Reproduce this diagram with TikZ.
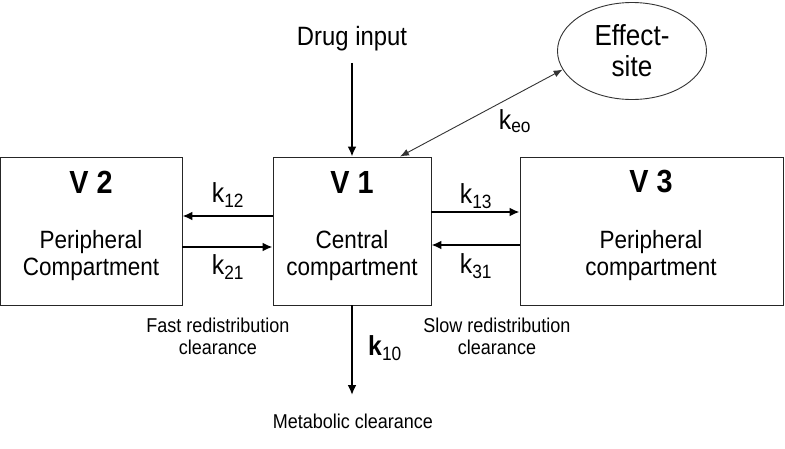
\documentclass[tikz,border=0pt]{standalone}
\usepackage{fontspec}
\setmainfont[FakeStretch=0.9]{Liberation Sans}
\usetikzlibrary{arrows.meta,shapes,positioning}
\tikzset{
  comp/.style   = {draw=black!85, line width=0.9pt, rectangle,
                   minimum height=148pt, inner sep=0pt},
  title/.style  = {font=\fontsize{32}{35}\selectfont\bfseries},
  body/.style   = {align=center, font=\fontsize{25}{27}\selectfont},
  rate/.style   = {font=\fontsize{27.5}{30}\selectfont},
  note/.style   = {align=center, font=\fontsize{20}{22}\selectfont},
  flow/.style   = {->, line width=2.3pt},
  link/.style   = {{Latex[length=9pt,width=7pt]}-{Latex[length=9pt,width=7pt]},
                   line width=0.9pt, draw=black!80}
}

\begin{document}
\begin{tikzpicture}[x=1pt, y=-1pt,
  >={Latex[length=10pt,width=9pt]}]
\useasboundingbox (0,0) rectangle (785,448);

% compartments
\node[comp, minimum width=182pt] (v2) at (91,231) {};
\node[comp, minimum width=158pt] (v1) at (352,231) {};
\node[comp, minimum width=263pt] (v3) at (651.5,231) {};

\node[title] (v2t) at (91,182) {V 2};
\node[title] (v1t) at (352,182) {V 1};
\node[title] (v3t) at (651,182) {V 3};

\node[body] (v2b) at (91,256) {Peripheral\\Compartment};
\node[body] (v1b) at (352,256) {Central\\compartment};
\node[body] (v3b) at (651,256) {Peripheral\\compartment};

% effect site and input
\node[draw=black!80, line width=0.9pt, ellipse, minimum width=149pt,
      minimum height=97pt, body, font=\fontsize{29}{31}\selectfont,
      inner sep=0pt] (effect) at (632,51) {Effect-\\site};
\node[body, font=\fontsize{26.5}{29}\selectfont] (drug) at (352,39) {Drug input};
\node[note] (metab) at (353,421) {Metabolic clearance};
\coordinate (out) at (352,395);

\draw[flow] ([yshift=-8pt]drug.south) -- (v1.north);
\draw[link] ([xshift=48pt]v1.north) -- (effect.195);
\node[rate] (keo) at (515,121) {k\textsubscript{eo}};

% transfer between compartments
\draw[flow] ([yshift=15pt]v1.west) -- ([yshift=15pt]v2.east);
\draw[flow] ([yshift=-16pt]v2.east) -- ([yshift=-16pt]v1.west);
\draw[flow] ([yshift=19pt]v1.east) -- ([yshift=19pt]v3.west);
\draw[flow] ([yshift=-14pt]v3.west) -- ([yshift=-14pt]v1.east);

\node[rate] (k12) at (228,195) {k\textsubscript{12}};
\node[rate] (k21) at (228,267) {k\textsubscript{21}};
\node[rate] (k13) at (476,196) {k\textsubscript{13}};
\node[rate] (k31) at (476,266) {k\textsubscript{31}};

\draw[flow] (v1.south) -- (out);
\node[rate] (k10) at (385,348) {\textbf{k}\textsubscript{10}};

\node[note] (fast) at (218,336) {Fast redistribution\\clearance};
\node[note] (slow) at (497,336) {Slow redistribution\\clearance};

\end{tikzpicture}
\end{document}
